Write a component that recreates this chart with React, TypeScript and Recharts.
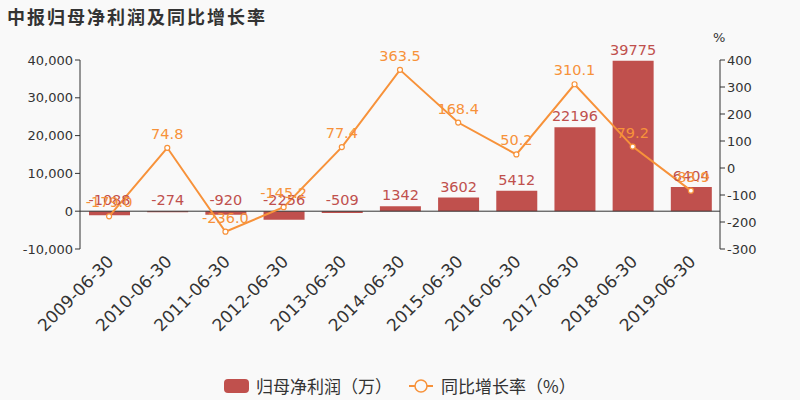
import React from "react";
import {
  ComposedChart,
  Bar,
  Line,
  XAxis,
  YAxis,
  ReferenceLine,
  LabelList,
} from "recharts";

const categories = [
  "2009-06-30",
  "2010-06-30",
  "2011-06-30",
  "2012-06-30",
  "2013-06-30",
  "2014-06-30",
  "2015-06-30",
  "2016-06-30",
  "2017-06-30",
  "2018-06-30",
  "2019-06-30",
];
const profit = [-1088, -274, -920, -2256, -509, 1342, 3602, 5412, 22196, 39775, 6404];
const growth = [-179.0, 74.8, -236.0, -145.2, 77.4, 363.5, 168.4, 50.2, 310.1, 79.2, -83.9];
const leftTicks = [-10000, 0, 10000, 20000, 30000, 40000];
const rightTicks = [-300, -200, -100, 0, 100, 200, 300, 400];

const data = categories.map((c, i) => ({ date: c, profit: profit[i], growth: growth[i] }));

const FONT = "'DejaVu Sans', 'Noto Sans CJK SC', sans-serif";
const BAR = "#c0504d";
const LINE = "#f7923a";
const TEXT = "#333333";

const XTick = (props: any) => {
  const { x, y, payload } = props;
  return (
    <g transform={`translate(${x},${y})`}>
      <text
        x={0}
        y={0}
        dy={8}
        textAnchor="end"
        transform="rotate(-45)"
        fill={TEXT}
        fontSize={17}
        fontFamily={FONT}
      >
        {payload.value}
      </text>
    </g>
  );
};

const BarLabel = (props: any) => {
  const { x, y, width, height, value } = props;
  const top = Math.min(y, y + height);
  return (
    <text
      x={x + width / 2}
      y={top - 6}
      textAnchor="middle"
      fill={BAR}
      fontSize={14.5}
      fontFamily={FONT}
    >
      {value}
    </text>
  );
};

const LineLabel = (props: any) => {
  const { x, y, value } = props;
  return (
    <text
      x={x}
      y={y - 9}
      textAnchor="middle"
      fill={LINE}
      fontSize={14.5}
      fontFamily={FONT}
    >
      {Number(value).toFixed(1)}
    </text>
  );
};

export default function App() {
  return (
    <div
      style={{
        position: "absolute",
        left: 0,
        top: 0,
        width: 800,
        height: 400,
        background: "#f9f9f9",
        fontFamily: FONT,
      }}
    >
      <div
        style={{
          position: "absolute",
          left: 7,
          top: 3,
          fontSize: 18,
          fontWeight: "bold",
          letterSpacing: 2,
          color: TEXT,
          fontFamily: "'Noto Sans CJK SC', sans-serif",
        }}
      >
        中报归母净利润及同比增长率
      </div>
      <div
        style={{
          position: "absolute",
          left: 713,
          top: 30,
          fontSize: 13,
          color: TEXT,
          fontFamily: FONT,
        }}
      >
        %
      </div>
      <ComposedChart
        width={800}
        height={400}
        data={data}
        margin={{ top: 60, right: 0, bottom: 51, left: 0 }}
      >
        <XAxis
          dataKey="date"
          axisLine={false}
          tickLine={false}
          tick={<XTick />}
          interval={0}
          height={100}
        />
        <YAxis
          yAxisId="left"
          orientation="left"
          width={80}
          domain={[-10000, 40000]}
          ticks={leftTicks}
          interval={0}
          tickFormatter={(v: number) => v.toLocaleString("en-US")}
          axisLine={{ stroke: TEXT }}
          tickLine={{ stroke: TEXT }}
          tickSize={5}
          tick={{ fill: TEXT, fontSize: 13, fontFamily: FONT }}
        />
        <YAxis
          yAxisId="right"
          orientation="right"
          width={80}
          domain={[-300, 400]}
          ticks={rightTicks}
          interval={0}
          axisLine={{ stroke: TEXT }}
          tickLine={{ stroke: TEXT }}
          tickSize={5}
          tick={{ fill: TEXT, fontSize: 13, fontFamily: FONT, textAnchor: "start" }}
        />
        <ReferenceLine yAxisId="left" y={0} stroke={TEXT} strokeWidth={1} />
        <Bar
          yAxisId="left"
          dataKey="profit"
          fill={BAR}
          barSize={41}
          isAnimationActive={false}
        >
          <LabelList dataKey="profit" content={<BarLabel />} />
        </Bar>
        <Line
          yAxisId="right"
          dataKey="growth"
          stroke={LINE}
          strokeWidth={2}
          dot={{ r: 2.5, fill: "#ffffff", stroke: LINE, strokeWidth: 1.2 }}
          isAnimationActive={false}
        >
          <LabelList dataKey="growth" content={<LineLabel />} />
        </Line>
      </ComposedChart>
      <div
        style={{
          position: "absolute",
          left: 224,
          top: 373,
          display: "flex",
          alignItems: "center",
          fontSize: 17,
          color: TEXT,
          fontFamily: "'Noto Sans CJK SC', sans-serif",
        }}
      >
        <span
          style={{
            display: "inline-block",
            width: 25,
            height: 14,
            borderRadius: 4,
            background: BAR,
            marginRight: 7,
          }}
        />
        <span>归母净利润（万）</span>
        <svg width={24} height={16} style={{ marginLeft: 17, marginRight: 8 }}>
          <line x1={0} y1={8} x2={24} y2={8} stroke={LINE} strokeWidth={2} />
          <circle cx={12} cy={8} r={6} fill="#f9f9f9" stroke={LINE} strokeWidth={1.5} />
        </svg>
        <span>同比增长率（%）</span>
      </div>
    </div>
  );
}
